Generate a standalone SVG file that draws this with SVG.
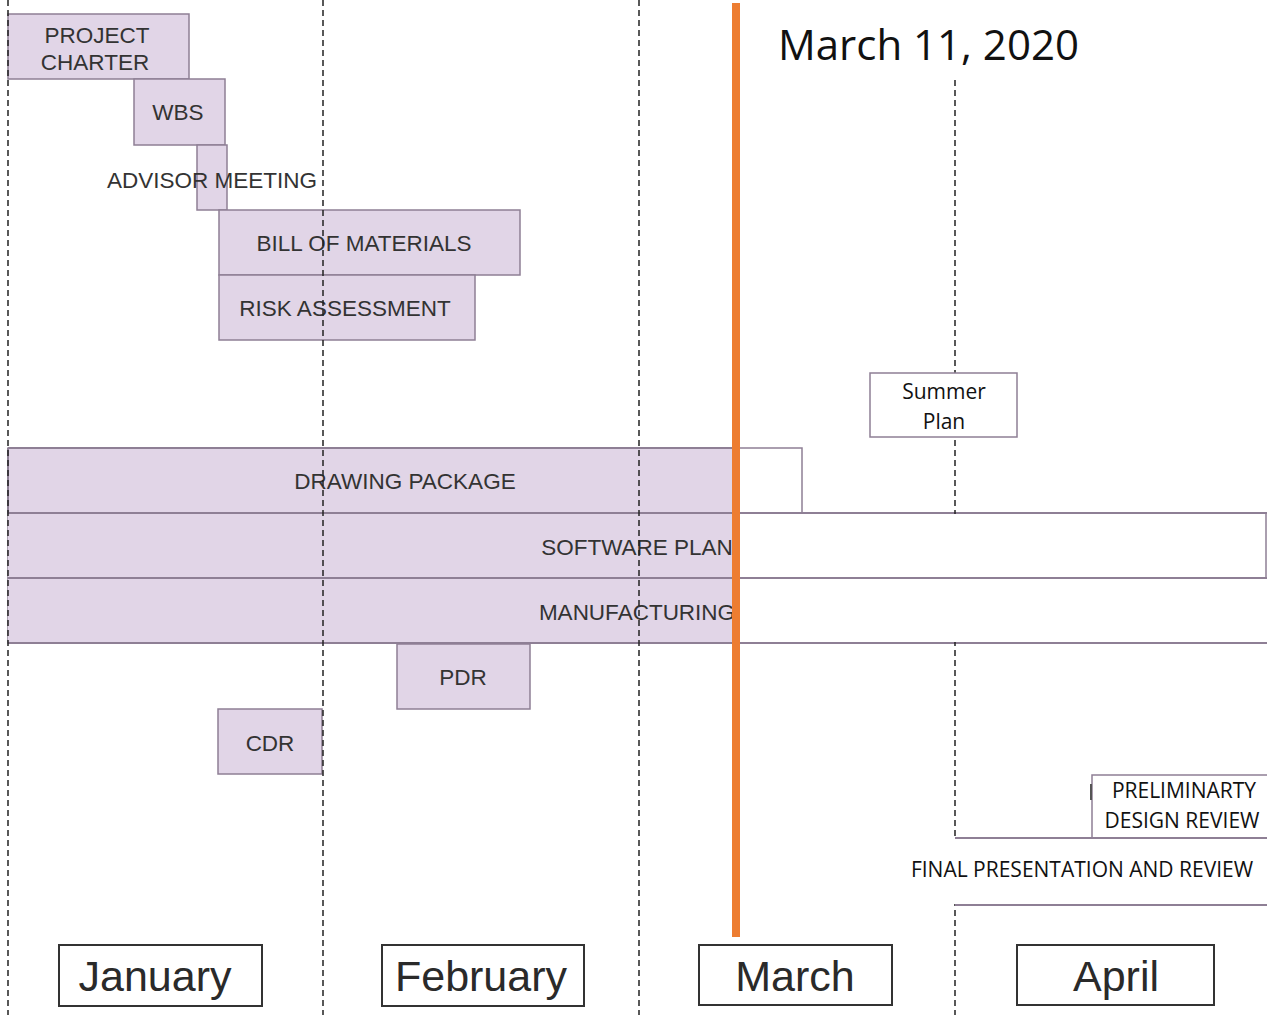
<svg xmlns="http://www.w3.org/2000/svg" width="1267" height="1015" viewBox="0 0 1267 1015">
<style>
.task{fill:#e1d5e7;stroke:#8e7f95;stroke-width:1.5}
.wbox{fill:#ffffff;stroke:#8e7f95;stroke-width:1.5}
.hl{stroke:#8e7f95;stroke-width:2;fill:none}
.t{font-family:"Liberation Sans",Arial,sans-serif;font-size:22.5px;fill:#333333;text-anchor:middle}
.c{font-family:"Open Sans","Noto Sans",sans-serif;font-size:21px;fill:#111111;text-anchor:middle}
.dash{stroke:#222222;stroke-width:1.5;stroke-dasharray:6,4;fill:none}
.month{fill:#ffffff;stroke:#333333;stroke-width:2}
.mt{font-family:"Liberation Sans",Arial,sans-serif;font-size:43px;fill:#2a2a2a;text-anchor:middle}
</style>
<rect width="1267" height="1015" fill="#ffffff"/>

<g id="project-charter"><rect class="task" x="8" y="14" width="181" height="65"/><text class="t" x="97" y="43">PROJECT</text><text class="t" x="95" y="70">CHARTER</text></g>
<g id="wbs"><rect class="task" x="134" y="79" width="91" height="66"/><text class="t" x="178" y="120">WBS</text></g>
<g id="advisor-meeting"><rect class="task" x="197" y="145" width="30" height="65"/><text class="t" x="212" y="188">ADVISOR MEETING</text></g>
<g id="bill-of-materials"><rect class="task" x="219" y="210" width="301" height="65"/><text class="t" x="364" y="251">BILL OF MATERIALS</text></g>
<g id="risk-assessment"><rect class="task" x="219" y="275" width="256" height="65"/><text class="t" x="345" y="316">RISK ASSESSMENT</text></g>

<g id="drawing-package"><rect class="wbox" x="8" y="448" width="794" height="65"/><rect x="8" y="448" width="728" height="65" fill="#e1d5e7"/><path class="hl" d="M8 448H736M8 448V513" stroke-width="1.5"/><text class="t" x="405" y="489">DRAWING PACKAGE</text></g>
<g id="software-plan"><rect class="wbox" x="8" y="513" width="1258" height="65"/><rect x="8" y="514" width="728" height="63" fill="#e1d5e7"/><text class="t" x="637" y="555">SOFTWARE PLAN</text></g>
<g id="manufacturing"><rect class="wbox" x="8" y="578" width="1262" height="65"/><rect x="8" y="579" width="728" height="63" fill="#e1d5e7"/><text class="t" x="637" y="620">MANUFACTURING</text></g>
<path class="hl" d="M8 513H1267M8 578H1267M8 643H1267"/>

<g id="pdr"><rect class="task" x="397" y="644" width="133" height="65"/><text class="t" x="463" y="685">PDR</text></g>
<g id="cdr"><rect class="task" x="218" y="709" width="104" height="65"/><text class="t" x="270" y="751">CDR</text></g>

<g id="dashed-lines">
<line class="dash" x1="8" y1="0" x2="8" y2="1015"/>
<line class="dash" x1="323" y1="0" x2="323" y2="1015"/>
<line class="dash" x1="639" y1="0" x2="639" y2="1015"/>
<line class="dash" x1="955" y1="80" x2="955" y2="1015"/>
</g>

<g id="white-covers">
<rect x="737" y="514" width="528" height="63" fill="#ffffff"/>
<rect x="737" y="579" width="530" height="63" fill="#ffffff"/>
<rect x="900" y="839" width="367" height="65" fill="#ffffff"/>
</g>

<g id="summer-plan"><rect class="wbox" x="870" y="373" width="147" height="64"/><text class="c" x="944" y="399">Summer</text><text class="c" x="944" y="429">Plan</text></g>

<g id="preliminary-design-review"><rect class="wbox" x="1092" y="775" width="180" height="63"/><line x1="1091" y1="784" x2="1091" y2="800" stroke="#555555" stroke-width="2"/><text class="c" x="1184" y="798">PRELIMINARTY</text><text class="c" x="1182" y="828">DESIGN REVIEW</text></g>

<g id="final-presentation"><path class="hl" d="M955 838H1267M955 905H1267"/><text class="c" x="1082" y="877">FINAL PRESENTATION AND REVIEW</text></g>

<g id="today-marker"><line x1="736" y1="3" x2="736" y2="937" stroke="#ed7d31" stroke-width="8"/><text x="778" y="60" font-family="'Open Sans','Noto Sans',sans-serif" font-size="42" fill="#111111">March 11, 2020</text></g>

<g id="january"><rect class="month" x="59" y="945" width="203" height="61"/><text class="mt" x="155" y="991">January</text></g>
<g id="february"><rect class="month" x="382" y="945" width="202" height="61"/><text class="mt" x="481" y="991">February</text></g>
<g id="march"><rect class="month" x="699" y="945" width="193" height="60"/><text class="mt" x="795" y="991">March</text></g>
<g id="april"><rect class="month" x="1017" y="945" width="197" height="60"/><text class="mt" x="1116" y="991">April</text></g>
</svg>
